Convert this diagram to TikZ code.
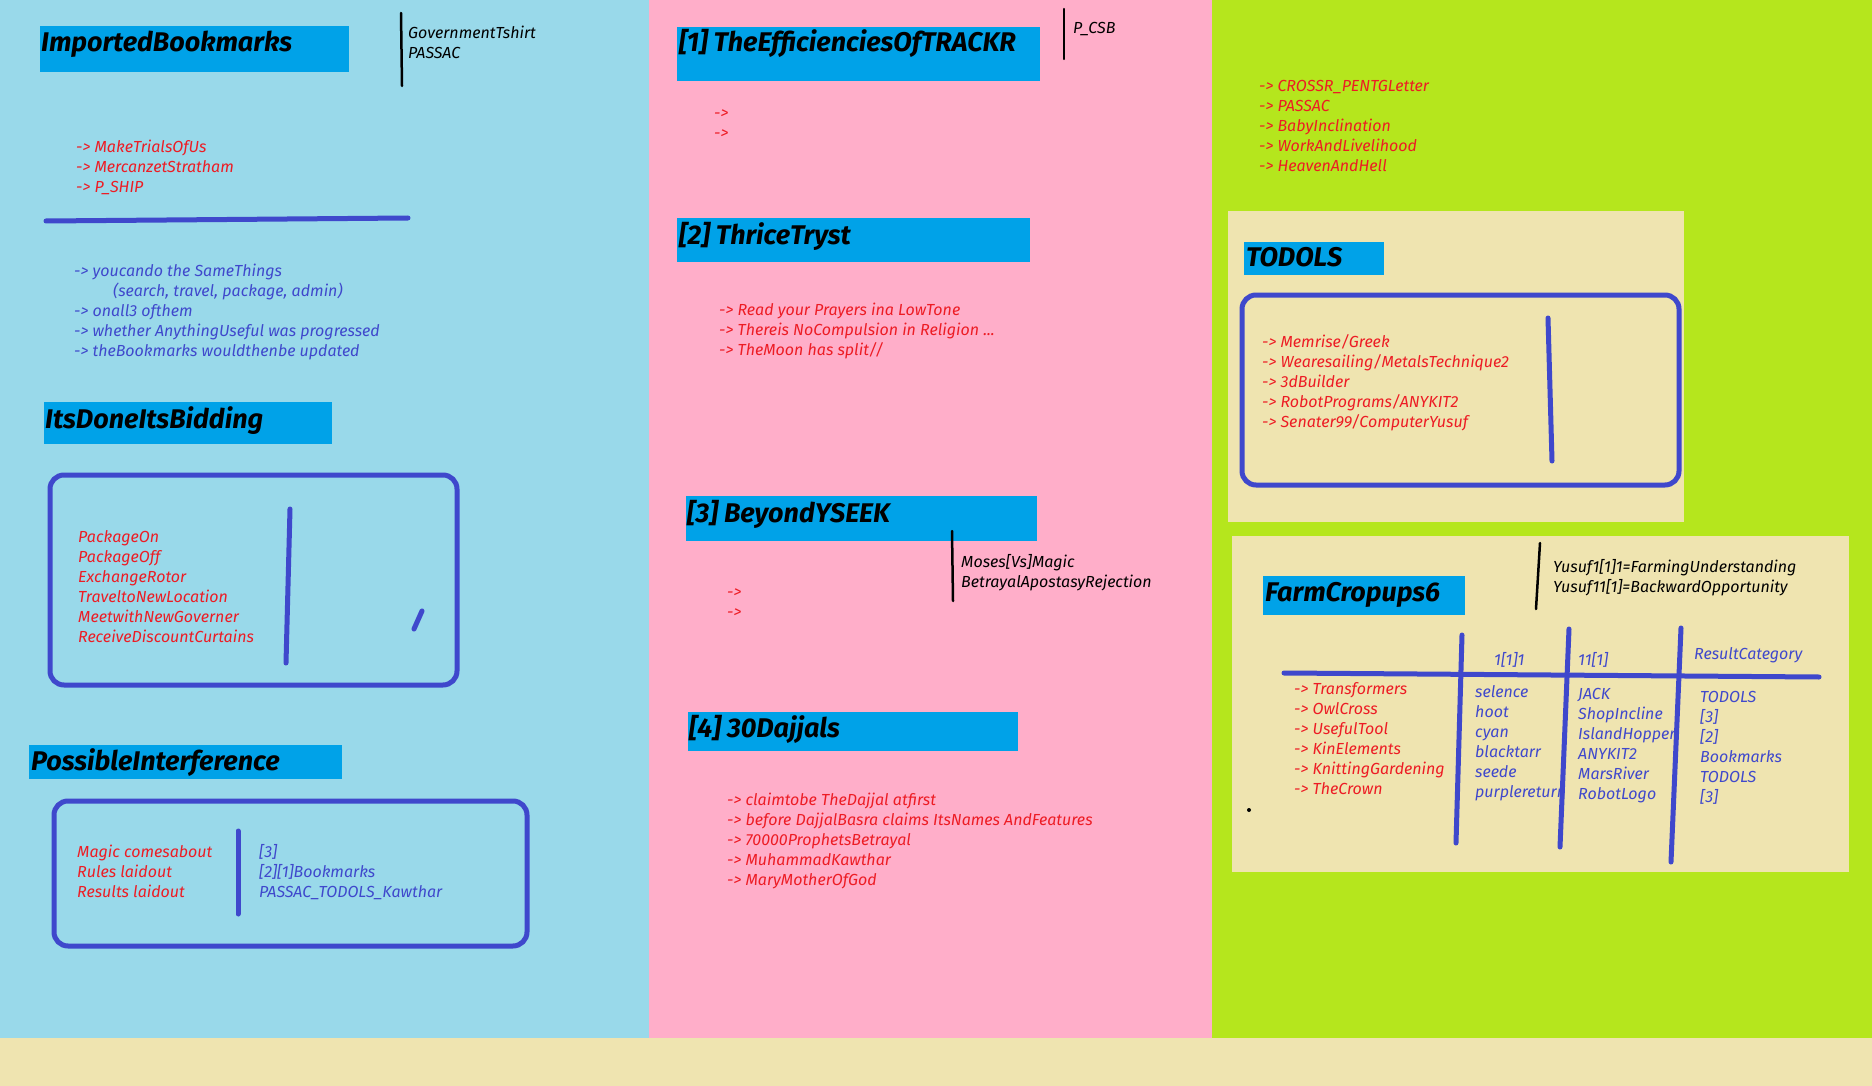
\documentclass[tikz,border=0pt]{standalone}
\usepackage{fontspec}
\setmainfont{Fira Sans}
\usepackage{tikz}

\definecolor{panelblue}{HTML}{99D9EA}
\definecolor{panelpink}{HTML}{FFAEC9}
\definecolor{panelgreen}{HTML}{B5E61D}
\definecolor{panelbeige}{HTML}{EFE4B0}
\definecolor{titleblue}{HTML}{00A2E8}
\definecolor{penblue}{HTML}{3F48CC}
\definecolor{penred}{HTML}{ED1C24}

\tikzset{
  titlebar/.style={fill=titleblue, anchor=north west, inner sep=0pt},
  titletext/.style={anchor=base west, inner sep=0pt, font=\fontsize{27}{30}\selectfont\bfseries\itshape},
  notes/.style={anchor=base west, inner sep=0pt, yshift=-2pt, align=left, font=\fontsize{16}{20}\selectfont\itshape},
  pen/.style={penblue, line width=5pt, line cap=round},
  frame/.style={penblue, line width=5pt, rounded corners=14pt},
  marker/.style={black, line width=2.5pt, line cap=round}
}

\begin{document}
\begin{tikzpicture}[x=1pt, y=-1pt]

    \useasboundingbox (0,0) rectangle (1872,1086);

    % background panels
    \fill[panelblue] (0,0) rectangle (649,1038);
    \fill[panelpink] (649,0) rectangle (1212,1038);
    \fill[panelgreen] (1212,0) rectangle (1872,1038);
    \fill[panelbeige] (0,1038) rectangle (1872,1086);
    \fill[panelbeige] (1228,211) rectangle (1684,522);
    \fill[panelbeige] (1232,536) rectangle (1849,872);

    % notes are placed at the baseline of their last line

    % Left column: ImportedBookmarks
    \node[titlebar, minimum width=309pt, minimum height=46pt] (ib) at (40,26) {};
    \node[titletext] (ib-t) at (41,52) {ImportedBookmarks};
    \draw[marker] (401,13) -- (402,86);
    \node[notes] (ib-side) at (408,57) {GovernmentTshirt\\PASSAC};
    \node[notes, text=penred] (ib-red) at (76,191) {-> MakeTrialsOfUs\\-> MercanzetStratham\\-> P\_SHIP};
    \draw[pen] (46,221) -- (408,218);
    \node[notes, text=penblue] (ib-blue) at (74,354) {-> youcando the SameThings\\\hspace{39pt}(search, travel, package, admin)\\-> onall3 ofthem\\-> whether AnythingUseful was progressed\\-> theBookmarks wouldthenbe updated};

    % ItsDoneItsBidding
    \node[titlebar, minimum width=288pt, minimum height=42pt] (dib) at (44,402) {};
    \node[titletext] (dib-t) at (45,428) {ItsDoneItsBidding};
    \draw[frame] (50,475) rectangle (457,685);
    \node[notes, text=penred] (dib-red) at (78,640) {PackageOn\\PackageOff\\ExchangeRotor\\TraveltoNewLocation\\MeetwithNewGoverner\\ReceiveDiscountCurtains};
    \draw[pen] (290,509) -- (286,663);
    \draw[pen] (422,611) -- (414,629);

    % PossibleInterference
    \node[titlebar, minimum width=313pt, minimum height=34pt] (pi) at (29,745) {};
    \node[titletext] (pi-t) at (31,770) {PossibleInterference};
    \draw[frame] (54,801) rectangle (527,946);
    \node[notes, text=penred] (pi-red) at (77,895) {Magic comesabout\\Rules laidout\\Results laidout};
    \draw[pen] (238,831) -- (238,914);
    \node[notes, text=penblue] (pi-blue) at (259,895) {[3]\\{}[2][1]Bookmarks\\PASSAC\_TODOLS\_Kawthar};

    % Middle column
    \node[titlebar, minimum width=363pt, minimum height=54pt] (eff) at (677,27) {};
    \node[titletext] (eff-t) at (679,52) {[1] TheEfficienciesOfTRACKR};
    \draw[marker] (1064,9) -- (1064,59);
    \node[notes] (eff-side) at (1073,32) {P\_CSB};
    \node[notes, text=penred] (eff-red) at (714,137) {->\\->};

    \node[titlebar, minimum width=353pt, minimum height=44pt] (tt) at (677,218) {};
    \node[titletext] (tt-t) at (679,244) {[2] ThriceTryst};
    \node[notes, text=penred] (tt-red) at (719,353) {-> Read your Prayers ina LowTone\\-> Thereis NoCompulsion in Religion ...\\-> TheMoon has split//};

    \node[titlebar, minimum width=351pt, minimum height=45pt] (bys) at (686,496) {};
    \node[titletext] (bys-t) at (687,522) {[3] BeyondYSEEK};
    \draw[marker] (952,531) -- (953,601);
    \node[notes] (bys-side) at (961,585) {Moses[Vs]Magic\\BetrayalApostasyRejection};
    \node[notes, text=penred] (bys-red) at (727,615) {->\\->};

    \node[titlebar, minimum width=330pt, minimum height=39pt] (dj) at (688,712) {};
    \node[titletext] (dj-t) at (689,737) {[4] 30Dajjals};
    \node[notes, text=penred] (dj-red) at (727,883) {-> claimtobe TheDajjal atfirst\\-> before DajjalBasra claims ItsNames AndFeatures\\-> 70000ProphetsBetrayal\\-> MuhammadKawthar\\-> MaryMotherOfGod};

    % Right column
    \node[notes, text=penred] (top-red) at (1259,170) {-> CROSSR\_PENTGLetter\\-> PASSAC\\-> BabyInclination\\-> WorkAndLivelihood\\-> HeavenAndHell};

    \node[titlebar, minimum width=140pt, minimum height=33pt] (td) at (1244,242) {};
    \node[titletext] (td-t) at (1246,267) {TODOLS};
    \draw[frame] (1242,295) rectangle (1679,485);
    \node[notes, text=penred] (td-red) at (1262,425) {-> Memrise/Greek\\-> Wearesailing/MetalsTechnique2\\-> 3dBuilder\\-> RobotPrograms/ANYKIT2\\-> Senater99/ComputerYusuf};
    \draw[pen] (1548,318) -- (1552,461);

    % FarmCropups6 table
    \node[titlebar, minimum width=202pt, minimum height=39pt] (fc) at (1263,576) {};
    \node[titletext] (fc-t) at (1265,601) {FarmCropups6};
    \draw[marker] (1540,543) -- (1536,609);
    \node[notes] (fc-side) at (1553,590) {Yusuf1[1]1=FarmingUnderstanding\\Yusuf11[1]=BackwardOpportunity};
    \node[notes, text=penblue] (h1) at (1494,663) {1[1]1};
    \node[notes, text=penblue] (h2) at (1578,663) {11[1]};
    \node[notes, text=penblue] (h3) at (1694,657) {ResultCategory};
    \node[notes, text=penred] (fc-red) at (1294,792) {-> Transformers\\-> OwlCross\\-> UsefulTool\\-> KinElements\\-> KnittingGardening\\-> TheCrown};
    \node[notes, text=penblue] (c1) at (1475,795) {selence\\hoot\\cyan\\blacktarr\\seede\\purplereturn};
    \node[notes, text=penblue] (c2) at (1578,797) {JACK\\ShopIncline\\IslandHopper\\ANYKIT2\\MarsRiver\\RobotLogo};
    \node[notes, text=penblue] (c3) at (1700,800) {TODOLS\\{}[3]\\{}[2]\\Bookmarks\\TODOLS\\{}[3]};
    \draw[pen] (1284,673) -- (1819,677);
    \draw[pen] (1462,635) -- (1456,843);
    \draw[pen] (1569,629) -- (1560,847);
    \draw[pen] (1681,628) -- (1671,862);
    \fill (1249,810) circle (2);

\end{tikzpicture}
\end{document}
